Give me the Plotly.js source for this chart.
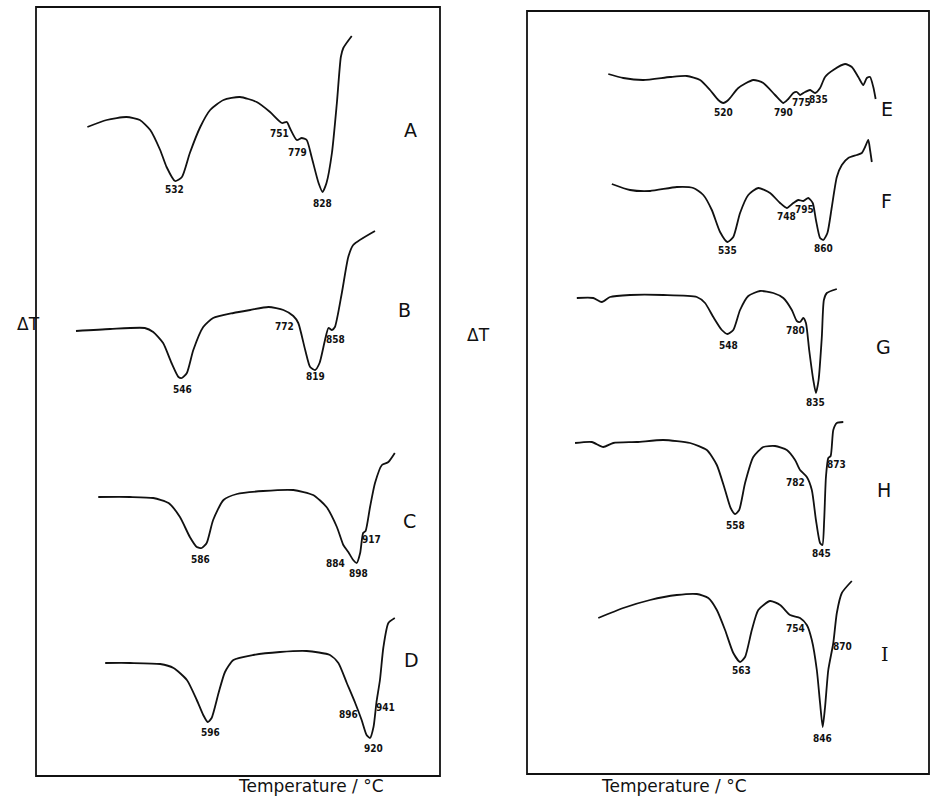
<!DOCTYPE html>
<html><head><meta charset="utf-8">
<script src="https://cdn.plot.ly/plotly-3.0.1.min.js"></script>
<style>html,body{margin:0;padding:0;background:#fff}#chart{width:932px;height:812px}</style>
</head><body><div id="chart"></div>
<script>
// ---------------- DATA (temperature in °C, ΔT in arbitrary units) ----------------
const curveNames = ['A','B','C','D','E','F','G','H','I'];

const tempA = [355,394,434,461,482,502,515,532,546,562,583,603,630,663,697,724,748,758,764,778,788,798,808,822,830,838,849,859,867,872,889];
const dtA   = [0,7,10,7,-3,-23,-40,-54,-50,-26,0,17,27,30,25,15,4,5,-1,-13,-11,-13,-30,-56,-65,-56,-26,24,70,79,91];

const tempB = [332,401,471,488,508,525,539,546,556,569,589,609,650,684,721,751,771,781,795,805,815,824,835,842,849,855,869,882,892,936];
const dtB   = [-1,1,2,-2,-13,-33,-47,-48,-43,-20,3,12,17,20,23,20,14,7,-20,-37,-40,-33,-10,2,0,3,37,73,85,99];

const tempC = [377,441,488,519,542,562,576,586,596,609,630,657,710,771,811,838,859,872,882,892,899,906,912,917,926,936,950,963,976];
const dtC   = [0,0,-1,-6,-20,-40,-50,-51,-46,-23,-3,3,6,7,2,-10,-30,-48,-55,-63,-66,-56,-36,-34,-10,14,32,35,44];

const tempD = [391,441,502,529,556,576,589,598,606,620,633,650,690,744,798,845,862,879,896,909,919,926,933,939,946,953,963,976];
const dtD   = [0,0,-1,-5,-17,-37,-52,-59,-55,-30,-9,3,8,11,12,8,0,-20,-40,-57,-72,-75,-64,-39,-17,16,40,45];

const tempE = [128,179,247,338,395,440,474,502,519,536,570,621,655,695,723,740,757,769,780,797,814,831,848,865,893,933,956,978,995,1007,1018,1029,1037];
const dtE   = [1,-3,-5,-2,-1,-5,-15,-25,-28,-25,-13,-5,-8,-20,-28,-24,-18,-17,-20,-17,-15,-18,-13,-2,5,11,8,-2,-10,-3,-2,-12,-24];

const tempF = [140,202,270,361,417,451,480,508,533,553,576,604,638,678,712,735,757,774,791,808,823,834,848,859,873,888,905,922,944,973,990,1001,1012,1018,1024];
const dtF   = [4,-2,-3,1,0,-7,-22,-44,-54,-49,-25,-7,0,-5,-15,-20,-15,-12,-13,-10,-15,-32,-50,-52,-45,-19,11,23,30,33,35,41,48,38,26];

const tempG = [21,77,106,134,202,315,429,457,485,514,533,553,576,604,644,689,723,752,769,780,791,800,811,825,834,843,854,861,871,905];
const dtG   = [-1,-1,-5,0,2,2,0,-6,-20,-33,-37,-33,-13,1,6,4,-1,-13,-24,-25,-21,-26,-53,-83,-96,-83,-40,-3,4,8];

const tempH = [15,72,111,145,225,315,406,463,497,525,544,559,573,593,621,655,695,735,763,780,803,820,834,848,856,862,868,876,884,893,905,927];
const dtH   = [-1,0,-5,-1,0,2,-1,-8,-23,-48,-66,-72,-68,-41,-15,-5,-4,-8,-18,-28,-35,-48,-78,-101,-103,-78,-35,-16,-14,12,19,20];

const tempI = [94,179,270,361,429,468,497,525,553,576,593,616,638,678,712,746,780,803,820,837,848,857,865,876,893,905,922,956];
const dtI   = [-18,-8,0,5,6,2,-10,-30,-53,-62,-57,-30,-10,-1,-5,-15,-18,-25,-40,-70,-103,-127,-107,-70,-43,-13,7,19];

// peak labels (°C) written beside each curve
const peaksA = ['532','751','779','828'];
const peaksB = ['546','772','819','858'];
const peaksC = ['586','884','898','917'];
const peaksD = ['596','896','920','941'];
const peaksE = ['520','790','775','835'];
const peaksF = ['535','748','795','860'];
const peaksG = ['548','780','835'];
const peaksH = ['558','782','845','873'];
const peaksI = ['563','754','870','846'];

// ---------------- LAYOUT PARAMETERS ----------------
const W = 932, H = 812;
const temps = [tempA,tempB,tempC,tempD,tempE,tempF,tempG,tempH,tempI];
const dts   = [dtA,dtB,dtC,dtD,dtE,dtF,dtG,dtH,dtI];
const peaks = [peaksA,peaksB,peaksC,peaksD,peaksE,peaksF,peaksG,peaksH,peaksI];

// label anchor positions [temperature, ΔT] on each curve's own scale
const labelPos = [
  [[530.6,-62],[744,-6],[779,-25],[829.5,-76]],
  [[547.6,-59],[752.2,4],[815.4,-46],[855.8,-9]],
  [[583.9,-62],[857.2,-66],[902.3,-76],[929.3,-42]],
  [[602.7,-69],[882.1,-51],[932.6,-85],[956.2,-44]],
  [[519,-37],[723,-37],[785.6,-27],[842,-24]],
  [[532.6,-62],[732.2,-28],[793.4,-21],[859,-60]],
  [[536,-48],[762.8,-33],[830.8,-105]],
  [[558.8,-83],[762.8,-40],[853.6,-111],[904.6,-22]],
  [[581.6,-70],[762.8,-28],[925,-46],[857,-138]]
];
// pixel row of each curve's ΔT = 0 level
const baseRow = [127,330,497,663,75,188,297,442,600];
// panels: box in pixels and temperature scale
const panels = [
  {x0:36, x1:440, y0:7, y1:776, px:175, T:532, k:2.02},
  {x0:527, x1:929, y0:11, y1:774, px:728, T:535, k:3.4}
];
const letterPos = [[410,117],[404,310],[409,521],[411,673],[895,96],[894,188],[893,347],[893,490],[891,667]];

const labelFont = {family:'Liberation Sans Narrow, DejaVu Sans Condensed, Arial Narrow, sans-serif', size:10, color:'#111', weight:'bold'};
const textFont = {family:'DejaVu Sans, sans-serif', size:17, color:'#111'};

const traces = [];
const layout = {
  width: W, height: H, margin:{l:0,r:0,t:0,b:0},
  paper_bgcolor:'#fff', plot_bgcolor:'rgba(0,0,0,0)', showlegend:false,
  annotations: [], shapes: []
};

panels.forEach((p, i) => {
  const key = i === 0 ? 'xaxis' : 'xaxis2';
  layout[key] = {
    domain:[p.x0/W, p.x1/W],
    range:[p.T + (p.x0 - p.px)*p.k, p.T + (p.x1 - p.px)*p.k],
    visible:false, fixedrange:true
  };
  layout.shapes.push({type:'rect', xref:'paper', yref:'paper',
    x0:p.x0/W, x1:p.x1/W, y0:1 - p.y1/H, y1:1 - p.y0/H,
    line:{color:'#111', width:1.8}});
});

curveNames.forEach((name, i) => {
  const xa = i < 4 ? 'x' : 'x2';
  const ya = i === 0 ? 'y' : 'y' + (i + 1);
  const yKey = i === 0 ? 'yaxis' : 'yaxis' + (i + 1);
  const ax = {
    domain:[0,1], range:[baseRow[i] - H, baseRow[i]],
    visible:false, fixedrange:true, anchor: xa
  };
  if (i > 0 && i < 4) ax.overlaying = 'y';
  if (i > 4) ax.overlaying = 'y5';
  layout[yKey] = ax;

  traces.push({
    type:'scatter', mode:'lines', name:name,
    x: temps[i], y: dts[i], xaxis: xa, yaxis: ya,
    line:{color:'#111', width:1.8, shape:'spline', smoothing:0.6},
    hoverinfo:'skip'
  });

  peaks[i].forEach((txt, j) => {
    layout.annotations.push({
      xref: xa, yref: ya, x: labelPos[i][j][0], y: labelPos[i][j][1],
      text: txt, showarrow:false, font: labelFont
    });
  });

  layout.annotations.push({
    xref:'paper', yref:'paper', x: letterPos[i][0]/W, y: 1 - letterPos[i][1]/H,
    text: name, showarrow:false,
    font: {family: name === 'I' ? 'DejaVu Serif, serif' : 'DejaVu Sans, sans-serif', size:19, color:'#111'}
  });
});

// axis titles
[[15,324],[478,335]].forEach(pt => layout.annotations.push({
  xref:'paper', yref:'paper', x: pt[0]/W, y: 1 - pt[1]/H,
  text:'ΔT', showarrow:false, font:textFont
}));
[[236,798],[749,798]].forEach(pt => layout.annotations.push({
  xref:'paper', yref:'paper', x: pt[0]/W, y: 1 - pt[1]/H,
  text:'Temperature / °C', showarrow:false, font:textFont
}));

Plotly.newPlot('chart', traces, layout, {staticPlot:true, displayModeBar:false});
</script>
</body></html>
